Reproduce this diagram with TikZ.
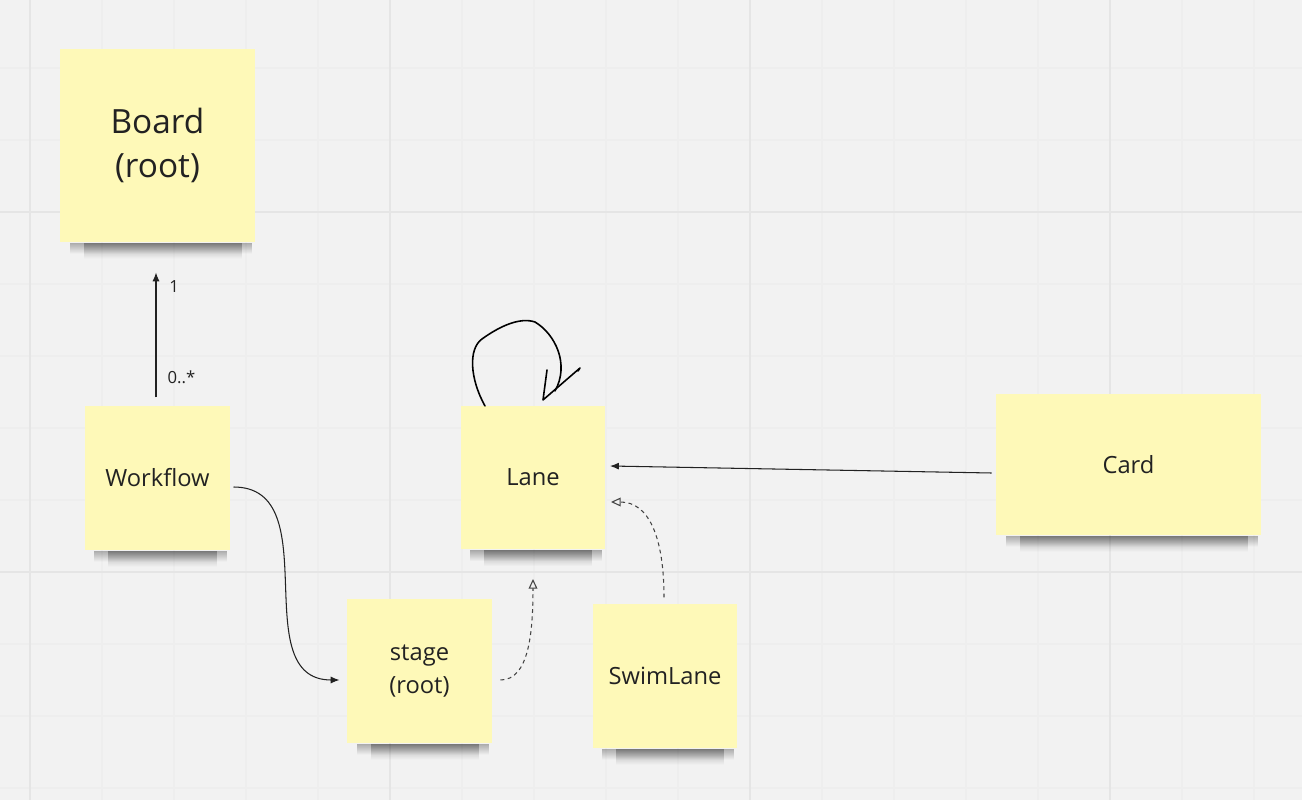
\documentclass[tikz,border=0pt]{standalone}
\usepackage{fontspec}
\setmainfont{Open Sans}
\usetikzlibrary{arrows.meta, positioning, calc, fadings}

\definecolor{canvas}{HTML}{F2F2F2}
\definecolor{gridmajor}{HTML}{E5E5E5}
\definecolor{gridminor}{HTML}{EEEEEE}
\definecolor{sticky}{HTML}{FEF9B8}
\definecolor{ink}{HTML}{222222}

\begin{document}
\begin{tikzpicture}[x=0.02cm, y=-0.02cm, line width=0.6pt]
                \tikzset{
                    notebox/.style={fill=sticky, minimum width=2.9cm, minimum height=2.88cm, inner sep=2pt, align=center, text=ink, font=\fontsize{13.5}{19}\selectfont},
                    noteshadow/.style={fill=black, opacity=0.3, path fading=south},
                    mult/.style={font=\fontsize{9.5}{11}\selectfont, text=ink},
                    assoc/.style={-{Latex[length=5pt, width=4pt]}, ink},
                    inherit/.style={-{Triangle[open, length=5.5pt, width=5pt]}, ink!85, dash pattern=on 2.2pt off 2pt}
                }

                \fill[canvas] (0,0) rectangle (1302,800);
                \useasboundingbox (0,0) rectangle (1302,800);
                \foreach \gx in {102,174,...,1302} \draw[gridminor] (\gx,0) -- (\gx,800);
                \foreach \gy in {68,140,...,800} \draw[gridminor] (0,\gy) -- (1302,\gy);
                \foreach \gx in {30,390,750,1110} \draw[gridmajor, line width=0.9pt] (\gx,0) -- (\gx,800);
                \foreach \gy in {212,572} \draw[gridmajor, line width=0.9pt] (0,\gy) -- (1302,\gy);

                \node[notebox, minimum width=3.9cm, minimum height=3.86cm, font=\fontsize{19}{25}\selectfont] (board) at (157.5,145.5) {Board\\(root)};
                \node[notebox] (workflow) at (157.5,478) {Workflow};
                \node[notebox] (lane) at (533,477.5) {Lane};
                \node[notebox, minimum width=5.3cm, minimum height=2.82cm] (card) at (1128.5,464.5) {Card};
                \node[notebox] (stage) at (419.5,671) {stage\\(root)};
                \node[notebox] (swimlane) at (665,676) {SwimLane};

                \foreach \n in {board, workflow, lane, card, stage, swimlane} {
                    \fill[noteshadow] ($(\n.south west)+(10,0)$) rectangle ($(\n.south east)+(-4,11)$);
                    \fill[noteshadow] ($(\n.south west)+(24,0)$) rectangle ($(\n.south east)+(-14,16)$);
                }

                \draw[assoc] ($(workflow.north)+(-1.5,-8)$) -- node[mult, right=3pt, pos=0.16] {0..*} node[mult, right=4pt, pos=0.89] {1} ($(board.south)+(-1.5,30)$);
                \draw[assoc] ($(workflow.east)+(3,9)$) .. controls +(95,0) and +(-95,0) .. ($(stage.west)+(-7,9)$);
                \draw[assoc] ($(card.west)+(-4,8.5)$) -- ($(lane.east)+(4,-11.5)$);
                \draw[inherit] ($(stage.east)+(8,9)$) .. controls +(28,0) and +(0,55) .. ($(lane.south)+(0,29)$);
                \draw[inherit] ($(swimlane.north)+(-1,-6)$) .. controls +(0,-60) and +(38,0) .. ($(lane.east)+(5,24.5)$);

                \draw[black, line width=0.9pt, line cap=round, shift={(lane.north)}] (-48,1) .. controls (-63,-26) and (-65,-56) .. (-51,-66) .. controls (-33,-79) and (-13,-88) .. (2,-83) .. controls (22,-71) and (37,-41) .. (22,-14);
                \draw[black, line width=0.9pt, line join=round, line cap=round, shift={(lane.north)}] (14,-35) -- (10,-5) -- (47,-37) -- (45,-34);
            \end{tikzpicture}
\end{document}
